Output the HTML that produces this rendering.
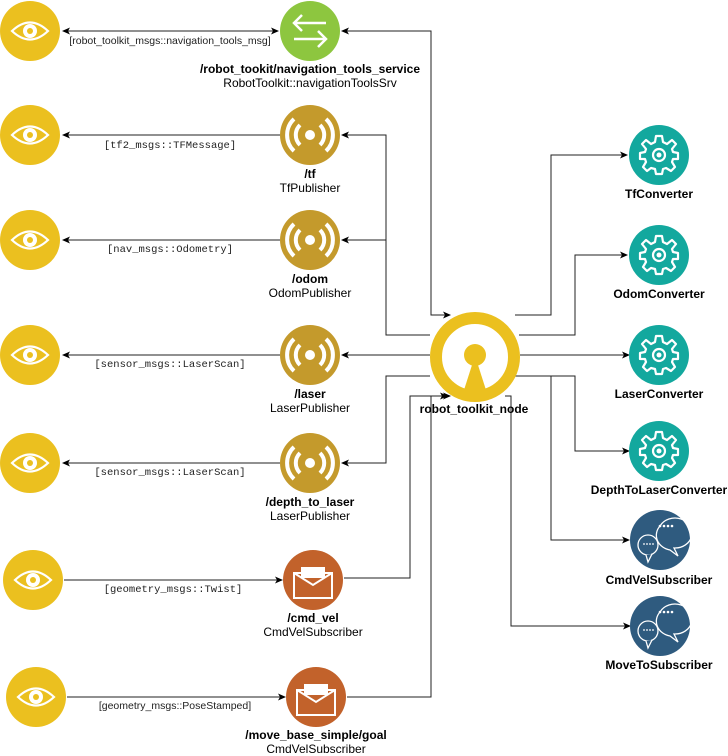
<!DOCTYPE html>
<html><head><meta charset="utf-8"><style>
html,body{margin:0;padding:0;background:#fff;}
svg{display:block;}
.b{font-family:"Liberation Sans",sans-serif;font-size:12px;font-weight:bold;fill:#000;text-anchor:middle;}
.n{font-family:"Liberation Sans",sans-serif;font-size:12px;fill:#000;text-anchor:middle;}
.m{font-family:"Liberation Mono",monospace;font-size:10.5px;fill:#222;text-anchor:middle;}
.s{font-family:"Liberation Sans",sans-serif;font-size:10.5px;fill:#222;text-anchor:middle;}
.l{fill:none;stroke:#222;stroke-width:1;}
</style></head><body>
<svg width="728" height="756" viewBox="0 0 728 756" xmlns="http://www.w3.org/2000/svg">
<defs>
<marker id="a" markerWidth="8" markerHeight="8" refX="7" refY="4" orient="auto" markerUnits="userSpaceOnUse"><path d="M0,0.5 L8,4 L0,7.5 L2,4 Z" fill="#000"/></marker>
<marker id="as" markerWidth="8" markerHeight="8" refX="1" refY="4" orient="auto" markerUnits="userSpaceOnUse"><path d="M8,0.5 L0,4 L8,7.5 L6,4 Z" fill="#000"/></marker>
<g id="eye"><path d="M-18,0 Q0,-17 18,0 Q0,17 -18,0 Z" fill="none" stroke="#fff" stroke-width="2.2"/><circle r="7" fill="#fff"/><circle r="3" fill="#EBC01F"/></g>
<g id="pub"><circle r="5" fill="#fff"/><path d="M-10,-10 A14,14 0 0 0 -10,10 M10,-10 A14,14 0 0 1 10,10" fill="none" stroke="#fff" stroke-width="4"/><path d="M-16,-16 A22,22 0 0 0 -16,16 M16,-16 A22,22 0 0 1 16,16" fill="none" stroke="#fff" stroke-width="4"/></g>
<g id="gear"><path d="M-3,-19 L3,-19 L4,-13 L8,-11 L13,-15 L17,-11 L13,-6 L14,-3 L19,-2 L19,4 L14,4 L13,7 L16,12 L12,16 L7,13 L4,14 L3,19 L-3,19 L-4,14 L-8,13 L-12,16 L-16,12 L-13,7 L-14,4 L-19,4 L-19,-2 L-14,-3 L-13,-6 L-17,-11 L-13,-15 L-8,-11 L-4,-13 Z" fill="none" stroke="#fff" stroke-width="2.2" stroke-linejoin="round"/><circle r="6" fill="none" stroke="#fff" stroke-width="2.2"/><circle r="2.5" fill="#fff"/></g>
<g id="env"><rect x="-19" y="-7" width="38" height="25" fill="none" stroke="#fff" stroke-width="2"/><rect x="-12" y="-13" width="24" height="11" fill="#fff"/><path d="M-19,-7 L0,5 L19,-7" fill="none" stroke="#fff" stroke-width="2"/></g>
<g id="chat"><path d="M-6,-10 A17,15 0 1 1 8,12 L12,20 L4,14 A17,15 0 0 1 -6,-10 Z" fill="none" stroke="#fff" stroke-width="1.3" transform="translate(4,-4)"/><circle cx="-2" cy="-14" r="1.3" fill="#fff"/><circle cx="2" cy="-14" r="1.3" fill="#fff"/><circle cx="6" cy="-14" r="1.3" fill="#fff"/><circle cx="10" cy="-14" r="1.3" fill="#fff"/><circle cx="-14" cy="5" r="10" fill="#2F5B7F" stroke="#fff" stroke-width="1.3"/><path d="M-16,15 L-14,22 L-10,14" fill="#2F5B7F" stroke="#fff" stroke-width="1.3"/><circle cx="-18" cy="4" r="0.9" fill="#fff"/><circle cx="-15" cy="4" r="0.9" fill="#fff"/><circle cx="-12" cy="4" r="0.9" fill="#fff"/><circle cx="-9" cy="4" r="0.9" fill="#fff"/></g>
</defs>

<path class="l" d="M63,31 H278" marker-start="url(#as)" marker-end="url(#a)"/>
<path class="l" d="M450,315 H431 V31 H342" marker-start="url(#as)" marker-end="url(#a)"/>
<path class="l" d="M280,135 H63" marker-end="url(#a)"/>
<path class="l" d="M430,335 H386 V135 H342" marker-end="url(#a)"/>
<path class="l" d="M280,240 H63" marker-end="url(#a)"/>
<path class="l" d="M386,240 H342" marker-end="url(#a)"/>
<path class="l" d="M280,355 H63" marker-end="url(#a)"/>
<path class="l" d="M430,355 H342" marker-end="url(#a)"/>
<path class="l" d="M280,463 H63" marker-end="url(#a)"/>
<path class="l" d="M430,376 H386 V463 H342" marker-end="url(#a)"/>
<path class="l" d="M64,580 H282" marker-end="url(#a)"/>
<path class="l" d="M344,578 H410 V396 H450" marker-end="url(#a)"/>
<path class="l" d="M67,697 H285" marker-end="url(#a)"/>
<path class="l" d="M347,697 H431 V396 H447" marker-end="url(#a)"/>
<path class="l" d="M515,315 H551 V155 H627" marker-end="url(#a)"/>
<path class="l" d="M519,335 H575 V255 H627" marker-end="url(#a)"/>
<path class="l" d="M520,355 H629" marker-end="url(#a)"/>
<path class="l" d="M515,376 H575 V451 H629" marker-end="url(#a)"/>
<path class="l" d="M515,376 H551 V540 H629" marker-end="url(#a)"/>
<path class="l" d="M505,396 H511 V626 H630" marker-end="url(#a)"/>

<text class="s" x="170" y="44">[robot_toolkit_msgs::navigation_tools_msg]</text>
<text class="m" x="170" y="148">[tf2_msgs::TFMessage]</text>
<text class="m" x="170" y="252">[nav_msgs::Odometry]</text>
<text class="m" x="170" y="367">[sensor_msgs::LaserScan]</text>
<text class="m" x="170" y="475">[sensor_msgs::LaserScan]</text>
<text class="m" x="173" y="592">[geometry_msgs::Twist]</text>
<text class="s" x="175" y="709">[geometry_msgs::PoseStamped]</text>

<g fill="#EBC01F">
<circle cx="30" cy="31" r="30"/><circle cx="30" cy="135" r="30"/><circle cx="30" cy="240" r="30"/>
<circle cx="30" cy="355" r="30"/><circle cx="30" cy="463" r="30"/><circle cx="33" cy="580" r="30"/><circle cx="36" cy="697" r="30"/>
</g>
<use href="#eye" x="30" y="31"/><use href="#eye" x="30" y="135"/><use href="#eye" x="30" y="240"/>
<use href="#eye" x="30" y="355"/><use href="#eye" x="30" y="463"/><use href="#eye" x="33" y="580"/><use href="#eye" x="36" y="697"/>

<circle cx="310" cy="31" r="30" fill="#8DC63F"/>
<path d="M294,23 H326 M302,15 L294,23 L302,31 M294,39 H326 M318,31 L326,39 L318,47" fill="none" stroke="#fff" stroke-width="2.5"/>
<text class="b" x="310" y="73">/robot_tookit/navigation_tools_service</text>
<text class="n" x="310" y="87">RobotToolkit::navigationToolsSrv</text>

<g fill="#C49A2C"><circle cx="310" cy="135" r="30"/><circle cx="310" cy="240" r="30"/><circle cx="310" cy="355" r="30"/><circle cx="310" cy="463" r="30"/></g>
<use href="#pub" x="310" y="135"/><use href="#pub" x="310" y="240"/><use href="#pub" x="310" y="355"/><use href="#pub" x="310" y="463"/>
<text class="b" x="310" y="178">/tf</text><text class="n" x="310" y="192">TfPublisher</text>
<text class="b" x="310" y="283">/odom</text><text class="n" x="310" y="297">OdomPublisher</text>
<text class="b" x="310" y="398">/laser</text><text class="n" x="310" y="412">LaserPublisher</text>
<text class="b" x="310" y="506">/depth_to_laser</text><text class="n" x="310" y="520">LaserPublisher</text>

<g fill="#C2622B"><circle cx="313" cy="580" r="30"/><circle cx="316" cy="697" r="30"/></g>
<use href="#env" x="313" y="580"/><use href="#env" x="316" y="697"/>
<text class="b" x="313" y="622">/cmd_vel</text><text class="n" x="313" y="636">CmdVelSubscriber</text>
<text class="b" x="316" y="739">/move_base_simple/goal</text><text class="n" x="316" y="753">CmdVelSubscriber</text>

<circle cx="475" cy="357" r="39" fill="#fff" stroke="#EBC01F" stroke-width="12"/>
<circle cx="475" cy="355" r="11" fill="#EBC01F"/>
<path d="M472,365 L478,365 L486,390 L464,390 Z" fill="#EBC01F"/>
<text class="b" x="474" y="413">robot_toolkit_node</text>

<g fill="#13A89E"><circle cx="659" cy="155" r="30"/><circle cx="659" cy="255" r="30"/><circle cx="659" cy="355" r="30"/><circle cx="659" cy="451" r="30"/></g>
<use href="#gear" x="659" y="155"/><use href="#gear" x="659" y="255"/><use href="#gear" x="659" y="355"/><use href="#gear" x="659" y="451"/>
<text class="b" x="659" y="198">TfConverter</text>
<text class="b" x="659" y="298">OdomConverter</text>
<text class="b" x="659" y="398">LaserConverter</text>
<text class="b" x="659" y="494">DepthToLaserConverter</text>

<g fill="#2F5B7F"><circle cx="660" cy="540" r="30"/><circle cx="660" cy="626" r="30"/></g>
<use href="#chat" x="662" y="540"/><use href="#chat" x="662" y="626"/>
<text class="b" x="659" y="584">CmdVelSubscriber</text>
<text class="b" x="659" y="669">MoveToSubscriber</text>
</svg>
</body></html>
